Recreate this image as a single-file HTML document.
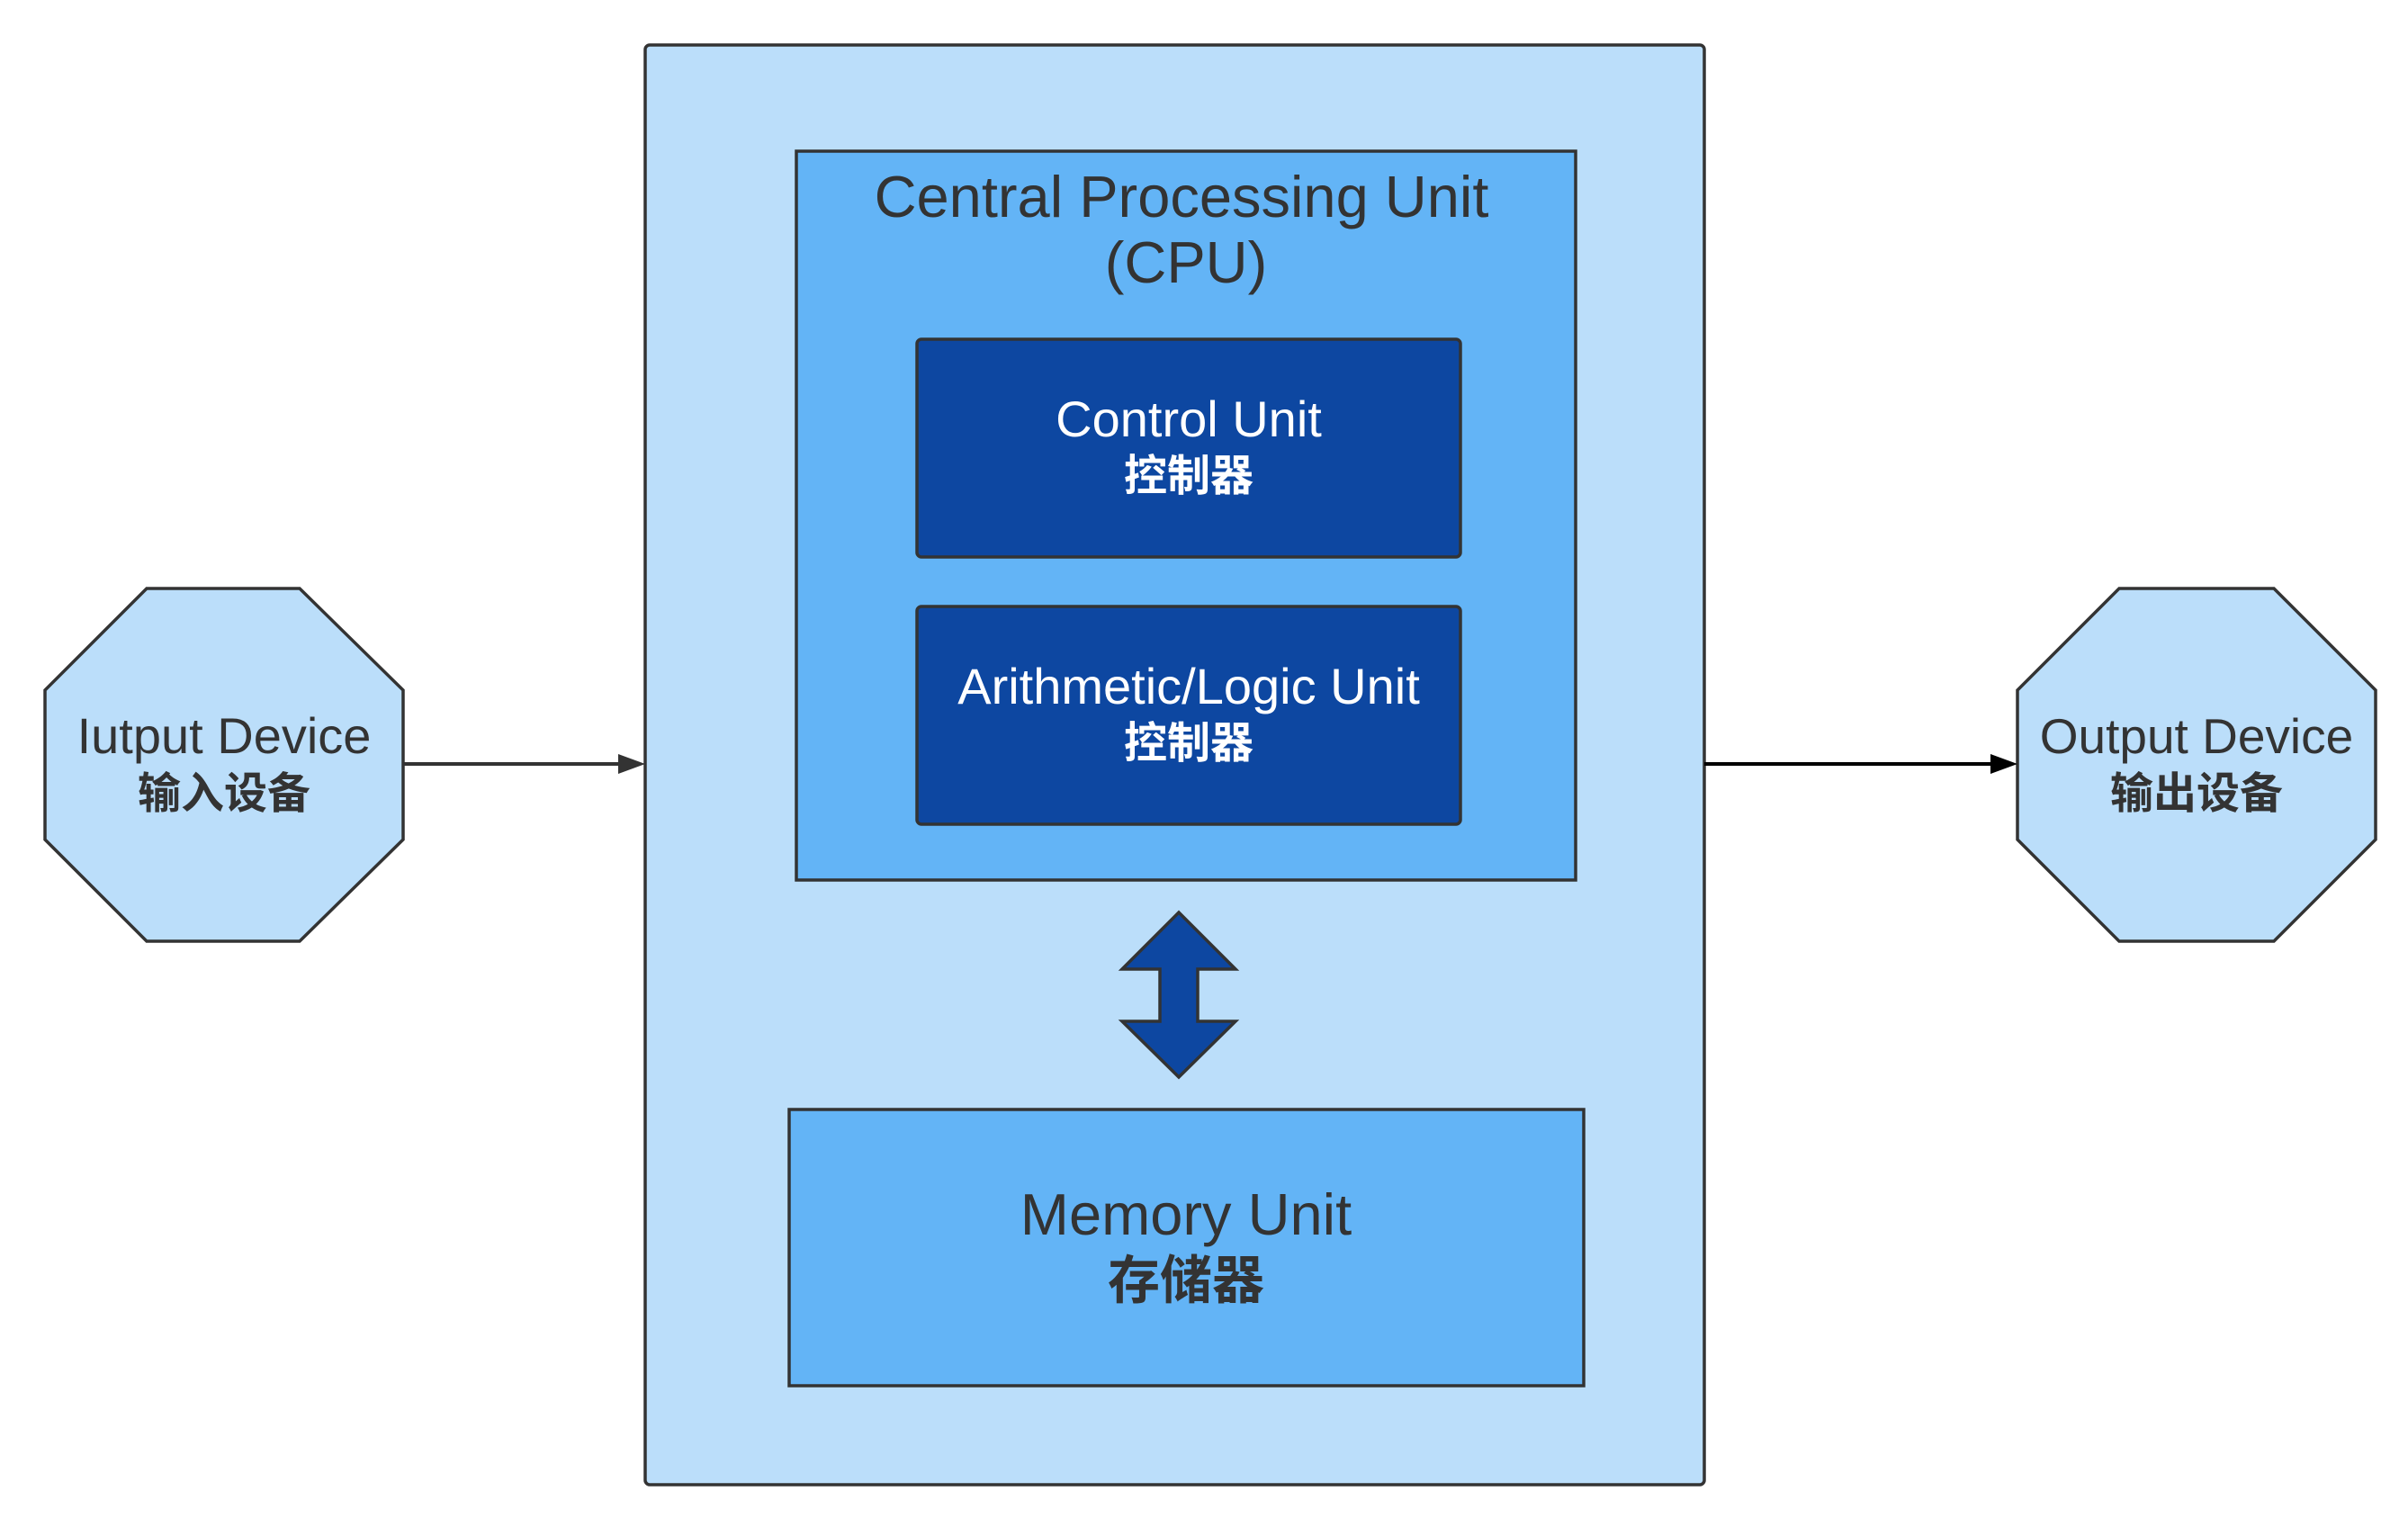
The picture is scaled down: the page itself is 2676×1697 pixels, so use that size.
<!DOCTYPE html>
<html><head><meta charset="utf-8"><style>
body{margin:0;background:#fff;}
svg text{font-family:"Liberation Sans","Noto Sans CJK SC",sans-serif;text-anchor:middle;}
</style></head><body>
<svg width="2676" height="1692" viewBox="0 0 2676 1692" xmlns="http://www.w3.org/2000/svg">
<rect x="717" y="50" width="1177" height="1600" rx="5" fill="#bbdefa" stroke="#333" stroke-width="3.5"/>
<rect x="885" y="168" width="866" height="810" fill="#63b4f6" stroke="#333" stroke-width="3.5"/>
<text x="1313" y="241" font-size="65" fill="#333">Central Processing Unit</text>
<text x="1318" y="314" font-size="65" fill="#333">(CPU)</text>
<rect x="1019" y="377" width="604" height="242" rx="5" fill="#0d47a1" stroke="#333" stroke-width="3.5"/>
<text x="1321" y="485" font-size="56" fill="#fff">Control Unit</text>
<text x="1321" y="545" font-size="48" font-weight="bold" fill="#fff">控制器</text>
<rect x="1019" y="674" width="604" height="242" rx="5" fill="#0d47a1" stroke="#333" stroke-width="3.5"/>
<text x="1321" y="782" font-size="56" fill="#fff">Arithmetic/Logic Unit</text>
<text x="1321" y="842" font-size="48" font-weight="bold" fill="#fff">控制器</text>
<polygon points="1310,1014 1373,1077 1331,1077 1331,1135 1373,1135 1310,1197 1247,1135 1289,1135 1289,1077 1247,1077" fill="#0d47a1" stroke="#333" stroke-width="3.5"/>
<rect x="877" y="1233" width="883" height="307" fill="#63b4f6" stroke="#333" stroke-width="3.5"/>
<text x="1318" y="1372" font-size="65" fill="#333">Memory Unit</text>
<text x="1318" y="1443" font-size="58" font-weight="bold" fill="#333">存储器</text>
<polygon points="163,654 333,654 448,767 448,933 333,1046 163,1046 50,933 50,767" fill="#bbdefa" stroke="#333" stroke-width="3.5"/>
<text x="249" y="837" font-size="56" fill="#333">Iutput Device</text>
<text x="249" y="898" font-size="48" font-weight="bold" fill="#333">输入设备</text>
<polygon points="2355,654 2527,654 2640,767 2640,933 2527,1046 2355,1046 2242,933 2242,767" fill="#bbdefa" stroke="#333" stroke-width="3.5"/>
<text x="2441" y="837" font-size="55" fill="#333">Output Device</text>
<text x="2441" y="898" font-size="48" font-weight="bold" fill="#333">输出设备</text>
<line x1="448" y1="849" x2="690" y2="849" stroke="#333" stroke-width="4"/>
<polygon points="717,849 687,838 687,860" fill="#333"/>
<line x1="1894" y1="849" x2="2215" y2="849" stroke="#000" stroke-width="4"/>
<polygon points="2242,849 2212,838 2212,860" fill="#000"/>
</svg>
</body></html>
